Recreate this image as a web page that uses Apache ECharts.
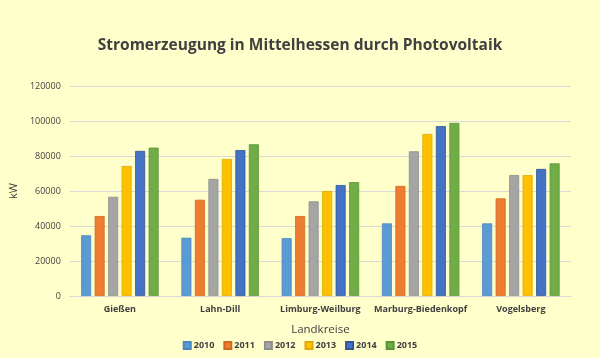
<!DOCTYPE html>
<html><head><meta charset="utf-8">
<script src="https://cdn.jsdelivr.net/npm/echarts@6/dist/echarts.min.js"></script>
<style>html,body{margin:0;padding:0;background:#FFFFCC;}#c{width:600px;height:358px;}</style>
</head><body><div id="c"></div>
<script>
const categories = ['Gießen','Lahn-Dill','Limburg-Weilburg','Marburg-Biedenkopf','Vogelsberg'];
const years = ['2010','2011','2012','2013','2014','2015'];
const v2010 = [34700, 33300, 33100, 41500, 41500];
const v2011 = [45700, 55000, 45700, 62900, 55800];
const v2012 = [56700, 66900, 54100, 82700, 69100];
const v2013 = [74300, 78300, 60000, 92600, 69100];
const v2014 = [82900, 83400, 63400, 97100, 72600];
const v2015 = [84800, 86700, 65100, 98900, 75800];
const yTicks = [0, 20000, 40000, 60000, 80000, 100000, 120000];
const colors = ['#5B9BD5','#ED7D31','#A5A5A5','#FFC000','#4472C4','#70AD47'];
const borders = ['#4A86BE','#D06A22','#8E8E8E','#E0A800','#2F5597','#5A9238'];
const values = [v2010, v2011, v2012, v2013, v2014, v2015];
const font = '"Open Sans", "Liberation Sans", sans-serif';
const chart = echarts.init(document.getElementById('c'));
chart.setOption({
  backgroundColor: '#FFFFCC',
  animation: false,
  color: colors,
  title: {
    text: 'Stromerzeugung in Mittelhessen durch Photovoltaik',
    left: 'center', top: 33,
    textStyle: {fontFamily: font, fontSize: 15.5, fontWeight: 'bold', color: '#404040'}
  },
  legend: {
    bottom: 3, left: 'center', itemWidth: 7, itemHeight: 7, itemGap: 9,
    icon: 'rect',
    textStyle: {fontFamily: font, fontSize: 9, fontWeight: 'bold', color: '#404040', padding: [0,0,0,-2]},
    data: years
  },
  grid: {left: 64, right: 29, top: 86, bottom: 62},
  xAxis: {
    type: 'category', data: categories,
    name: 'Landkreise', nameLocation: 'middle', nameGap: 28,
    nameTextStyle: {fontFamily: font, fontSize: 11.5, color: '#404040'},
    axisTick: {show: false},
    axisLine: {lineStyle: {color: '#D9D9D9'}},
    axisLabel: {interval: 0, fontFamily: font, fontSize: 9, fontWeight: 'bold', color: '#404040', margin: 9}
  },
  yAxis: {
    type: 'value', min: 0, max: 120000, interval: 20000,
    name: 'kW', nameLocation: 'middle', nameGap: 48,
    nameTextStyle: {fontFamily: font, fontSize: 11, color: '#404040'},
    axisLine: {show: false}, axisTick: {show: false},
    splitLine: {lineStyle: {color: '#D9D9D9', width: 1}},
    axisLabel: {fontFamily: font, fontSize: 9, color: '#404040', margin: 9,
      formatter: v => String(v)}
  },
  series: years.map((y, i) => ({
    name: y, type: 'bar', data: values[i],
    barWidth: 10, barGap: '35%', barCategoryGap: '24%',
    itemStyle: {color: colors[i], borderColor: borders[i], borderWidth: 0.8}
  }))
});
</script></body></html>
